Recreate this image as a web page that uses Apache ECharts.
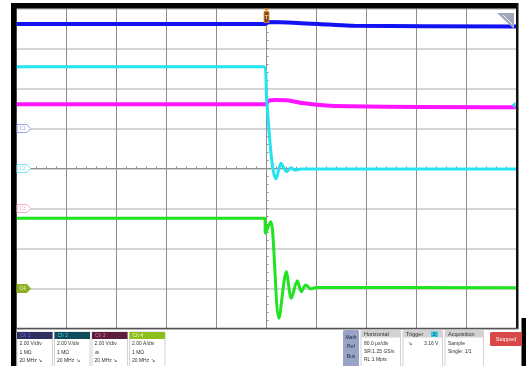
<!DOCTYPE html>
<html><head><meta charset="utf-8">
<script src="https://cdn.jsdelivr.net/npm/echarts@6/dist/echarts.min.js"></script>
<style>html,body{margin:0;padding:0;background:#fff}#c{width:526px;height:366px}</style>
</head><body><div id="c"></div>
<script>
// Horizontal: time in µs, 80 µs/div over 10 divisions. Vertical: screen divisions (8 divisions).
const timeMin = -400, timeMax = 400, timePerDiv = 80;
const divMin = -4, divMax = 4;

// Ch1 (blue)
const ch1Time = [-400, -2, 2, 50, 100, 140, 400];
const ch1Div  = [3.61, 3.61, 3.66, 3.64, 3.60, 3.57, 3.55];

// Ch2 (cyan)
const ch2Time = [-400, -4, 0.3, 6.7, 11.2, 15.2, 23.2, 32.3, 39.2, 45.6, 55, 400];
const ch2Div  = [2.545, 2.545, 1.71, 0.46, -0.09, -0.26, 0.13, -0.08, 0.02, -0.04, -0.01, -0.01];

// Ch3 (magenta)
const ch3Time = [-400, -1, 3, 15, 35, 60, 110, 400];
const ch3Div  = [1.605, 1.605, 1.69, 1.71, 1.70, 1.63, 1.56, 1.53];

// Ch4 (green, current)
const ch4Time = [-400, -2.9, -1.6, 6.7, 9.6, 20, 31.7, 39.7, 49.3, 55.7, 62.7, 71, 79, 400];
const ch4Div  = [-1.245, -1.245, -1.62, -1.33, -1.54, -3.745, -2.58, -3.245, -2.805, -3.08, -2.91, -3.01, -2.975, -2.98];

// Channel ground reference markers (div) and trigger
const chOffsetDiv = [1, 0, -1, -3];
const chMarkerText = ['C1', 'C2', 'C3', 'C4'];
const triggerTime = 0;
const triggerLevelV = 3.16, ch2VoltsPerDiv = 2;

// Readout text
const chHeaders = ['Ch 1', 'Ch 2', 'Ch 3', 'Ch 4'];
const chScale = ['2.00 V/div', '2.00 V/div', '2.00 V/div', '2.00 A/div'];
const chTerm = ['1 MΩ', '1 MΩ', '⋒', '1 MΩ'];
const chBw = ['20 MHz ↘', '20 MHz ↘', '20 MHz ↘', '20 MHz ↘'];
const horizText = ['80.0 µs/div', 'SR:1.25 GS/s', 'RL:1 Mpts'];
const acqText = ['Sample', 'Single: 1/1'];

const traceColors = ['#1212f2', '#22e4f0', '#ff14ff', '#1fe41f'];
const traceWidths = [4, 3, 4, 3];

function pairs(t, v) { return t.map((x, i) => [x, v[i]]); }

const chart = echarts.init(document.getElementById('c'), null, { renderer: 'canvas' });
const FONT = 'Liberation Sans';

const seriesList = [
  { name: 'Ch1', data: pairs(ch1Time, ch1Div), idx: 0, z: 3 },
  { name: 'Ch3', data: pairs(ch3Time, ch3Div), idx: 2, z: 4 },
  { name: 'Ch2', data: pairs(ch2Time, ch2Div), idx: 1, z: 5 },
  { name: 'Ch4', data: pairs(ch4Time, ch4Div), idx: 3, z: 6 }
].map(s => ({
  type: 'line', name: s.name, data: s.data, showSymbol: false, symbol: 'none',
  smooth: 0.3, z: s.z, animation: false,
  lineStyle: { color: traceColors[s.idx], width: traceWidths[s.idx] }
}));

chart.setOption({
  animation: false,
  backgroundColor: '#fff',
  grid: { left: 16.5, top: 8.5, width: 500, height: 320, containLabel: false },
  xAxis: {
    type: 'value', min: timeMin, max: timeMax, interval: timePerDiv,
    axisLabel: { show: false },
    axisLine: { show: true, onZero: true, lineStyle: { color: '#8e8e8e', width: 1 } },
    axisTick: { show: true, inside: true, length: 2, lineStyle: { color: '#8e8e8e' } },
    minorTick: { show: true, splitNumber: 5, length: 2, lineStyle: { color: '#8e8e8e' } },
    splitLine: { show: true, lineStyle: { color: '#8e8e8e', width: 1 } }
  },
  yAxis: {
    type: 'value', min: divMin, max: divMax, interval: 1,
    axisLabel: { show: false },
    axisLine: { show: true, onZero: true, lineStyle: { color: '#8e8e8e', width: 1 } },
    axisTick: { show: true, inside: true, length: 2, lineStyle: { color: '#8e8e8e' } },
    minorTick: { show: true, splitNumber: 5, length: 2, lineStyle: { color: '#8e8e8e' } },
    splitLine: { show: true, lineStyle: { color: '#c8c8c8', width: 1.5 } }
  },
  series: seriesList
});

// Overlays: frame, channel markers, trigger markers and readout panel
const g = [];
const txt = (x, y, s, opt) => g.push(Object.assign({
  type: 'text', x, y, silent: true, z: 50,
  style: Object.assign({ text: s, font: '5px ' + FONT, fill: '#333', textVerticalAlign: 'middle' }, opt || {})
}));
const rect = (x, y, w, h, style, r) => g.push({
  type: 'rect', silent: true, z: 40, shape: { x, y, width: w, height: h, r: r || 0 }, style
});

// Frame
rect(11, 3, 5.5, 363, { fill: '#000' });
rect(11, 3, 507, 5.5, { fill: '#000' });
rect(516, 3, 2.5, 326, { fill: '#111' });
rect(16.5, 327.8, 502, 1.4, { fill: '#555' });
rect(521.5, 318, 4.5, 48, { fill: '#000' });

// Channel ground markers
const markStroke = ['#a0a0f0', '#78e2f2', '#f2aec4', '#8cb022'];
chOffsetDiv.forEach((d, i) => {
  const y = chart.convertToPixel({ yAxisIndex: 0 }, d);
  const filled = i === 3;
  g.push({
    type: 'polygon', silent: true, z: 45,
    shape: { points: [[17, y - 4], [27, y - 4], [30.5, y], [27, y + 4], [17, y + 4]] },
    style: { fill: filled ? markStroke[i] : '#fff', stroke: markStroke[i], lineWidth: 1 }
  });
  txt(19.5, y, chMarkerText[i], { fill: filled ? '#eef5d8' : markStroke[i], font: '5px ' + FONT });
});

// Trigger position marker
const tx = chart.convertToPixel({ xAxisIndex: 0 }, triggerTime);
g.push({ type: 'polygon', silent: true, z: 45,
  shape: { points: [[tx - 2.5, 8.5], [tx + 2.5, 8.5], [tx, 11.5]] }, style: { fill: '#f08c28' } });
rect(tx - 2.5, 11.5, 5, 11, { fill: '#7a4a20', stroke: '#e89030', lineWidth: 0.8 });
g[g.length - 1].z = 45;
txt(tx, 17, 'T', { fill: '#f4c488', textAlign: 'center', font: 'bold 6px ' + FONT });

// Trigger level marker (Ch2)
const ty = chart.convertToPixel({ yAxisIndex: 0 }, triggerLevelV / ch2VoltsPerDiv + chOffsetDiv[1]);
g.push({ type: 'polygon', silent: true, z: 45,
  shape: { points: [[511.5, ty], [515.5, ty - 3.5], [515.5, ty + 3.5]] }, style: { fill: '#2ad0e8' } });

// Top-right indicator
g.push({ type: 'polygon', silent: true, z: 45,
  shape: { points: [[497, 13], [514, 13], [514, 29]] }, style: { fill: '#a0a8bc' } });
g.push({ type: 'line', silent: true, z: 46,
  shape: { x1: 503, y1: 15, x2: 512, y2: 24 }, style: { stroke: '#e8ecf4', lineWidth: 1 } });

// Channel readouts
const chX = [17, 54.5, 92, 129.5];
const chHead = ['#2e2f5e', '#0f4b5b', '#5b1f3c', '#8cbf1c'];
const chHeadText = ['#6464e0', '#40cce0', '#e070a8', '#eef8d0'];
chX.forEach((x, i) => {
  rect(x, 332, 35.5, 40, { fill: '#fff', stroke: '#c8c8c8', lineWidth: 0.8 });
  rect(x, 332, 35.5, 7, { fill: chHead[i] });
  txt(x + 3, 335.5, chHeaders[i], { fill: chHeadText[i] });
  txt(x + 2.5, 344, chScale[i]);
  txt(x + 2.5, 352.5, chTerm[i]);
  txt(x + 2.5, 360.5, chBw[i]);
});

// Math / Ref / Bus
rect(343, 330, 16, 40, { fill: '#98a4c6' }, 1.5);
txt(351, 337.5, 'Math', { textAlign: 'center', fill: '#2a2a40' });
txt(351, 347, 'Ref', { textAlign: 'center', fill: '#2a2a40' });
txt(351, 356.5, 'Bus', { textAlign: 'center', fill: '#2a2a40' });

// Horizontal, Trigger, Acquisition
const boxes = [
  { x: 361, w: 39.5, head: 'Horizontal', lines: horizText },
  { x: 403, w: 39.5, head: 'Trigger', lines: [] },
  { x: 445, w: 38.5, head: 'Acquisition', lines: acqText }
];
boxes.forEach(b => {
  rect(b.x, 330, b.w, 40, { fill: '#fff', stroke: '#c8c8c8', lineWidth: 0.8 }, 1.5);
  rect(b.x, 330, b.w, 7.5, { fill: '#d2d2d2' }, 1.5);
  txt(b.x + 3, 334, b.head, { fill: '#333', font: '5.5px ' + FONT });
  b.lines.forEach((s, k) => txt(b.x + 3, 344 + k * 7.8, s));
});
rect(431, 331.5, 7, 5.5, { fill: '#2fc6de' });
txt(434.5, 334.3, '2', { textAlign: 'center', fill: '#143848' });
txt(408, 344, '↘', { fill: '#333' });
txt(424, 344, triggerLevelV.toFixed(2) + ' V', { fill: '#333' });

// Run state
rect(490, 332, 32, 14, { fill: '#d84848' }, 1.5);
txt(506, 339, 'Stopped', { textAlign: 'center', fill: '#fff', font: '5.5px ' + FONT });

chart.setOption({ graphic: g });
</script>
</body></html>
